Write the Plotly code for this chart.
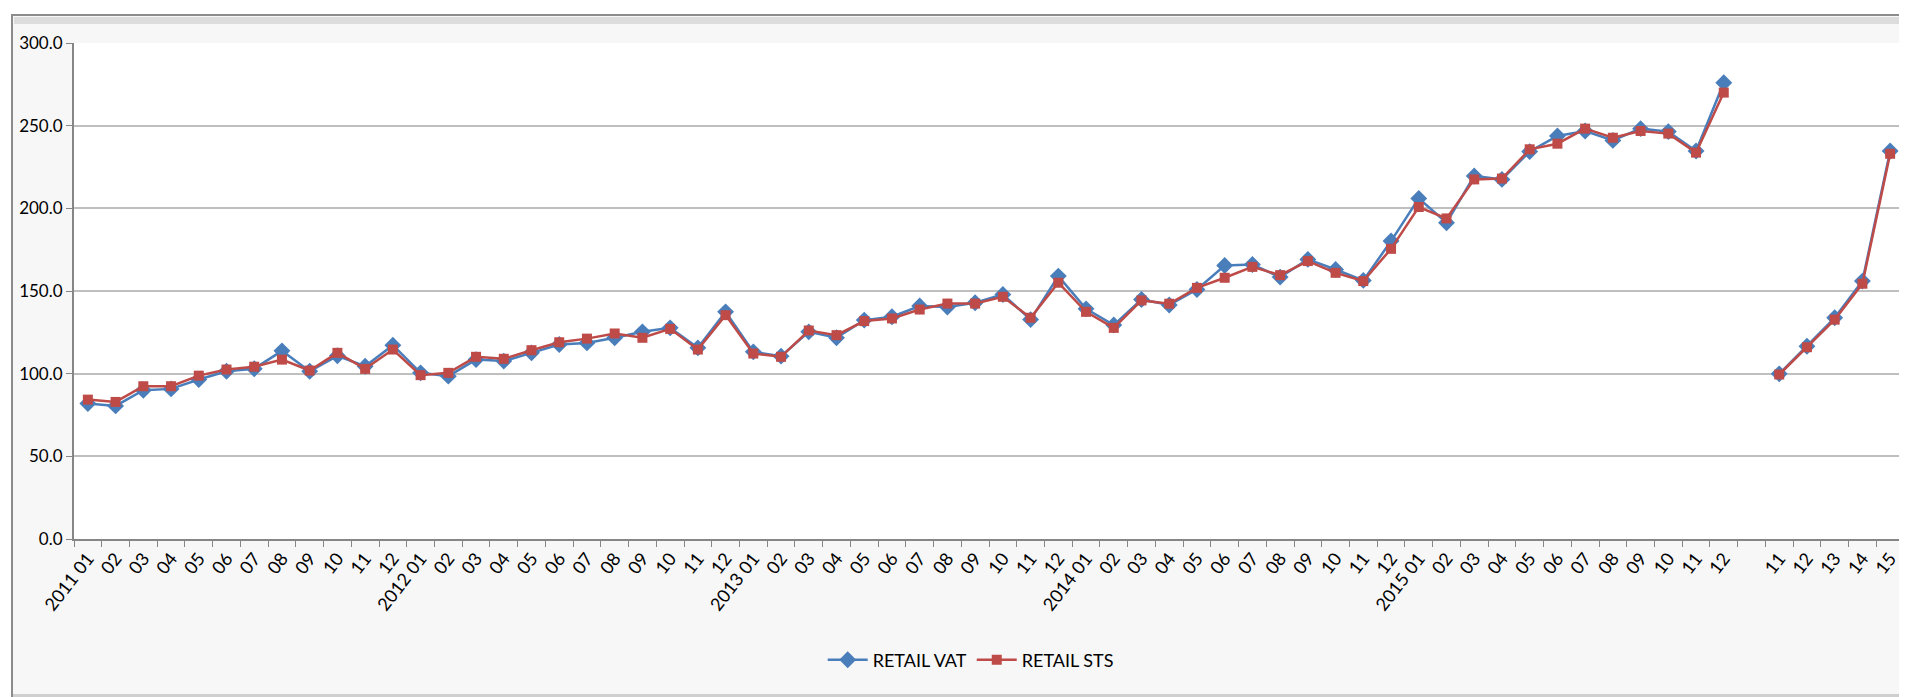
import plotly.graph_objects as go

# ---- data ----
tick_labels = [
    "2011 01", "02", "03", "04", "05", "06", "07", "08", "09", "10", "11", "12",
    "2012 01", "02", "03", "04", "05", "06", "07", "08", "09", "10", "11", "12",
    "2013 01", "02", "03", "04", "05", "06", "07", "08", "09", "10", "11", "12",
    "2014 01", "02", "03", "04", "05", "06", "07", "08", "09", "10", "11", "12",
    "2015 01", "02", "03", "04", "05", "06", "07", "08", "09", "10", "11", "12",
    "",
    "11", "12", "13", "14", "15",
]

retail_vat = [
    82.0, 80.5, 90.0, 90.8, 96.5, 101.5, 103.0, 113.8, 101.5, 110.8, 104.5, 117.2,
    100.5, 98.5, 108.5, 107.6, 112.6, 117.6, 118.6, 121.7, 125.3, 127.7, 115.6, 137.4,
    113.2, 110.6, 125.3, 121.7, 132.4, 134.4, 140.9, 140.3, 142.9, 147.9, 132.7, 159.0,
    139.2, 129.4, 144.9, 141.5, 150.9, 165.4, 166.0, 158.4, 169.1, 163.0, 156.4, 180.2,
    206.0, 191.3, 219.6, 217.5, 234.3, 243.8, 246.8, 241.1, 248.2, 246.4, 234.7, 276.0,
    None,
    99.9, 116.6, 133.8, 156.0, 234.7,
]

retail_sts = [
    84.3, 82.9, 92.4, 92.4, 98.8, 102.5, 104.2, 108.5, 101.9, 112.6, 102.9, 114.6,
    99.1, 100.5, 110.2, 109.0, 114.2, 119.0, 121.2, 124.3, 121.7, 127.1, 114.6, 135.4,
    112.2, 110.2, 126.1, 123.3, 131.8, 133.4, 138.8, 142.4, 142.4, 146.5, 133.8, 155.0,
    137.4, 127.7, 144.3, 142.3, 151.9, 158.0, 164.6, 159.6, 168.1, 161.0, 156.0, 175.5,
    200.8, 193.9, 217.5, 218.0, 235.7, 239.1, 248.2, 242.7, 246.8, 245.2, 233.7, 270.0,
    None,
    99.5, 116.0, 132.7, 154.4, 233.0,
]

y_ticks = [0, 50, 100, 150, 200, 250, 300]

# unique category keys (labels repeat, keys must not)
categories = [f"c{i:02d}" for i in range(len(tick_labels))]

FONT = "Lato, Liberation Sans, sans-serif"
BLUE = "#4A7EBB"
RED = "#BE4B48"

W, H = 1907, 697
ML, MR, MT, MB = 66, 11, 35, 166
PW, PH = W - ML - MR, H - MT - MB


def px(x):
    return (x - ML) / PW


def py(y):
    return (H - MB - y) / PH


fig = go.Figure()
fig.add_trace(go.Scatter(
    x=categories, y=retail_vat, name="RETAIL VAT", mode="lines+markers",
    line=dict(color=BLUE, width=2.5),
    marker=dict(symbol="diamond", size=13, color=BLUE),
    connectgaps=False,
))
fig.add_trace(go.Scatter(
    x=categories, y=retail_sts, name="RETAIL STS", mode="lines+markers",
    line=dict(color=RED, width=2.5),
    marker=dict(symbol="square", size=10, color=RED),
    connectgaps=False,
))

shapes = [
    # chart area with frame
    dict(type="rect", xref="paper", yref="paper", layer="below",
         x0=px(4), x1=px(1906), y0=py(692), y1=py(7),
         fillcolor="#F7F7F7", line=dict(color="#8C8C8C", width=2)),
    # top shadow
    dict(type="rect", xref="paper", yref="paper", layer="below",
         x0=px(6), x1=px(1905), y0=py(16), y1=py(9),
         fillcolor="#DCDCDC", line=dict(width=0)),
    # bottom shadow
    dict(type="rect", xref="paper", yref="paper", layer="below",
         x0=px(5), x1=px(1905), y0=py(691), y1=py(686),
         fillcolor="#CFCFCF", line=dict(width=0)),
    # plot area
    dict(type="rect", xref="paper", yref="paper", layer="below",
         x0=0, x1=1, y0=0, y1=1,
         fillcolor="#FFFFFF", line=dict(width=0)),
]

fig.update_layout(
    width=W, height=H,
    margin=dict(l=ML, r=MR, t=MT, b=MB),
    paper_bgcolor="#FFFFFF",
    plot_bgcolor="rgba(0,0,0,0)",
    font=dict(family=FONT, size=17, color="#000000"),
    shapes=shapes,
    showlegend=True,
    legend=dict(
        orientation="h", x=0.49, xanchor="center", y=py(652), yanchor="middle",
        font=dict(family=FONT, size=18, color="#000000"),
        bgcolor="rgba(0,0,0,0)", itemwidth=40, traceorder="normal",
    ),
    xaxis=dict(
        type="category",
        categoryorder="array", categoryarray=categories,
        tickmode="array", tickvals=categories, ticktext=tick_labels,
        tickson="boundaries",
        ticks="outside", ticklen=6, tickcolor="#868686", tickwidth=1,
        tickangle=-52,
        tickfont=dict(family=FONT, size=18, color="#000000"),
        showline=True, linecolor="#868686", linewidth=2,
        showgrid=False, zeroline=False,
        range=[-0.5, len(categories) - 0.5],
    ),
    yaxis=dict(
        range=[0, 300],
        tickmode="array", tickvals=y_ticks,
        tickformat=".1f",
        ticks="outside", ticklen=6, tickcolor="#868686", tickwidth=1,
        tickfont=dict(family=FONT, size=17, color="#000000"),
        showline=True, linecolor="#868686", linewidth=2,
        showgrid=True, gridcolor="#BFBFBF", gridwidth=2,
        zeroline=False,
    ),
)

fig.write_html("out.html")
